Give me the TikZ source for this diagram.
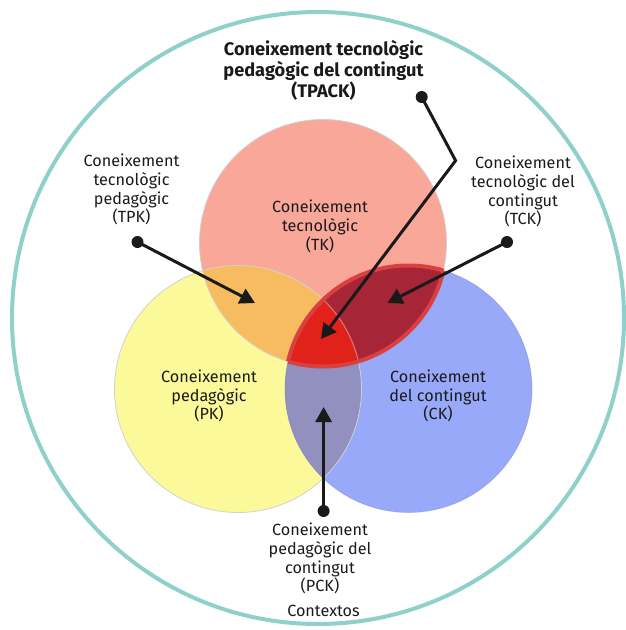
\documentclass[tikz,border=0pt]{standalone}
\usepackage{fontspec}
\setmainfont{Fira Sans}
\usetikzlibrary{arrows.meta}
\definecolor{ring}{HTML}{8FD1CA}
\definecolor{tkc}{HTML}{F9A799}
\definecolor{pkc}{HTML}{FBF99A}
\definecolor{ckc}{HTML}{99A9F9}
\definecolor{tpkc}{HTML}{F7BB60}
\definecolor{tckc}{HTML}{A62536}
\definecolor{tpackc}{HTML}{E0221A}
\definecolor{pckc}{HTML}{9190BF}
\definecolor{redline}{HTML}{D9403F}
\definecolor{txt}{HTML}{1A1A1A}
\tikzset{
  lbl/.style={align=center,inner sep=0pt,text=txt,font=\fontsize{16.2}{18.8}\selectfont},
  ttl/.style={align=center,inner sep=0pt,text=txt,font=\bfseries\fontsize{18.2}{21}\selectfont},
  dotnode/.style={circle,fill=txt,inner sep=0pt,minimum size=12pt},
  arrowline/.style={draw=txt,line width=3pt,-{Triangle[length=15pt,width=16pt]}},
}
\begin{document}
\begin{tikzpicture}[x=1pt,y=-1pt]
\useasboundingbox (0,0) rectangle (625,630);
% centres
\coordinate (T) at (323,243);
\coordinate (P) at (238,389);
\coordinate (C) at (408.5,389);
\def\R{123.5}
% outer ring
\draw[ring,line width=4pt] (318,318) circle (306);
% base circles
\fill[tkc] (T) circle (\R);
\fill[pkc] (P) circle (\R);
\fill[ckc] (C) circle (\R);
% pairwise overlaps
\begin{scope}
  \clip (T) circle (\R);
  \fill[tpkc] (P) circle (\R);
  \fill[tckc] (C) circle (\R);
\end{scope}
\begin{scope}
  \clip (P) circle (\R);
  \fill[pckc] (C) circle (\R);
\end{scope}
\begin{scope}
  \clip (T) circle (\R);
  \clip (P) circle (\R);
  \fill[tpackc] (C) circle (\R);
\end{scope}
% faint circle edges
\draw[black!18,line width=0.8pt] (T) circle (\R);
\draw[black!18,line width=0.8pt] (P) circle (\R);
\draw[ckc!70!black,opacity=0.3,line width=0.8pt] (C) circle (\R);
\begin{scope}
  \clip (T) circle (\R);
  \clip (C) circle (\R);
  \draw[redline,opacity=0.6,line width=1.5pt] (P) circle (\R);
\end{scope}
% red outline of TK/CK lens
\begin{scope}
  \clip (C) circle (\R);
  \draw[redline,line width=4pt] (T) circle (\R);
\end{scope}
\begin{scope}
  \clip (T) circle (\R);
  \draw[redline,line width=4pt] (C) circle (\R);
\end{scope}
% labels
\node[ttl] (tpack) at (323.5,70) {Coneixement tecnològic\\pedagògic del contingut\\(TPACK)};
\node[lbl] (tk) at (320,226.5) {Coneixement\\tecnològic\\(TK)};
\node[lbl] (tpk) at (131.5,189.5) {Coneixement\\tecnològic\\pedagògic\\(TPK)};
\node[lbl] (tck) at (523,191.5) {Coneixement\\tecnològic del\\contingut\\(TCK)};
\node[lbl] (pk) at (209,396) {Coneixement\\pedagògic\\(PK)};
\node[lbl] (ck) at (438,396) {Coneixement\\del contingut\\(CK)};
\node[lbl] (pck) at (320,558.5) {Coneixement\\pedagògic del\\contingut\\(PCK)};
\node[lbl] (ctx) at (323.5,611) {Contextos};
% connectors
\node[dotnode] (tpkdot) at (137.5,242) {};
\node[dotnode] (tckdot) at (507,242) {};
\node[dotnode] (tpackdot) at (421.7,97) {};
\node[dotnode] (pckdot) at (323.6,511) {};
\coordinate (tpktip) at (255,303);
\coordinate (tcktip) at (387.4,303);
\coordinate (tpackbend) at (455.6,160.6);
\coordinate (tpacktip) at (321,339);
\coordinate (pcktip) at (323.6,407);
\draw[arrowline] (tpkdot.center) -- (tpktip);
\draw[arrowline] (tckdot.center) -- (tcktip);
\draw[arrowline,line join=miter] (tpackdot.center) -- (tpackbend) -- (tpacktip);
\draw[arrowline] (pckdot.center) -- (pcktip);
\end{tikzpicture}
\end{document}
